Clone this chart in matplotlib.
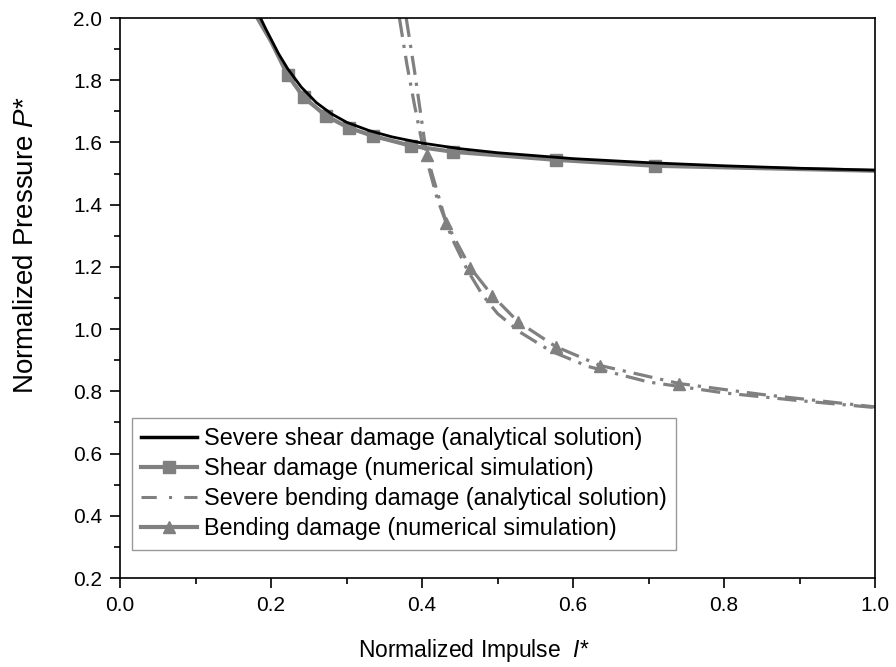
import matplotlib
matplotlib.use("Agg")
import matplotlib.pyplot as plt
from matplotlib.lines import Line2D
from matplotlib.ticker import MultipleLocator

plt.rcParams['font.family'] = ['Liberation Sans', 'DejaVu Sans']
plt.rcParams['mathtext.fontset'] = 'custom'
plt.rcParams['mathtext.rm'] = 'Liberation Sans'
plt.rcParams['mathtext.it'] = 'Liberation Sans:italic'

# severe shear damage (analytical)
shear_an_x = [0.186, 0.193, 0.2, 0.21, 0.222, 0.24, 0.26, 0.28, 0.30, 0.33, 0.36, 0.40, 0.45, 0.50, 0.60, 0.70, 0.80, 0.90, 1.0]
shear_an_y = [2.0, 1.965, 1.932, 1.885, 1.837, 1.778, 1.728, 1.692, 1.665, 1.638, 1.618, 1.598, 1.58, 1.567, 1.548, 1.535, 1.525, 1.517, 1.511]

# shear damage (numerical)
shear_num_x = [0.182, 0.20, 0.222, 0.243, 0.273, 0.303, 0.335, 0.386, 0.441, 0.578, 0.709, 1.0]
shear_num_y = [2.0, 1.925, 1.817, 1.746, 1.685, 1.647, 1.621, 1.589, 1.570, 1.544, 1.525, 1.509]
shear_num_mark = list(range(2, 11))

# severe bending damage (analytical)
bend_an_x = [0.370, 0.38, 0.39, 0.40, 0.42, 0.44, 0.46, 0.48, 0.50, 0.53, 0.57, 0.62, 0.70, 0.80, 0.90, 1.0]
bend_an_y = [2.0, 1.85, 1.72, 1.60, 1.42, 1.29, 1.19, 1.11, 1.05, 0.99, 0.93, 0.88, 0.83, 0.795, 0.77, 0.748]

# bending damage (numerical)
bend_num_x = [0.379, 0.39, 0.406, 0.432, 0.464, 0.493, 0.527, 0.577, 0.636, 0.741, 0.85, 1.0]
bend_num_y = [2.0, 1.83, 1.56, 1.342, 1.197, 1.108, 1.024, 0.944, 0.883, 0.825, 0.79, 0.75]
bend_num_mark = list(range(2, 10))

labels = ['Severe shear damage (analytical solution)',
          'Shear damage (numerical simulation)',
          'Severe bending damage (analytical solution)',
          'Bending damage (numerical simulation)']

gray = '#808080'
dashdot = (0, (6, 2.5, 1, 2.5))

fig = plt.figure(figsize=(8.96, 6.67), dpi=100)
ax = fig.add_axes([0.134, 0.1334, 0.8426, 0.8396])

ax.plot(shear_num_x, shear_num_y, color=gray, lw=3, marker='s', ms=8,
        markevery=shear_num_mark, zorder=2)
ax.plot(shear_an_x, shear_an_y, color='black', lw=2, zorder=3)
ax.plot(bend_an_x, bend_an_y, color=gray, lw=2.3, ls=dashdot, zorder=2)
ax.plot(bend_num_x, bend_num_y, color=gray, lw=2.3, ls=dashdot,
        marker='^', ms=9, markevery=bend_num_mark, zorder=2)

ax.set_xlim(0.0, 1.0)
ax.set_ylim(0.2, 2.0)
ax.xaxis.set_major_locator(MultipleLocator(0.2))
ax.xaxis.set_minor_locator(MultipleLocator(0.1))
ax.yaxis.set_major_locator(MultipleLocator(0.2))
ax.yaxis.set_minor_locator(MultipleLocator(0.1))
ax.tick_params(which='both', direction='out', top=False, right=False, labelsize=15, width=1.2)
ax.tick_params(which='major', length=7, pad=6)
ax.tick_params(which='minor', length=4)
for s in ax.spines.values():
    s.set_linewidth(1.2)

ax.set_xlabel(r'Normalized Impulse  $\it{I}$*', fontsize=16.5)
ax.set_ylabel(r'Normalized Pressure $\it{P}$*', fontsize=20)
ax.xaxis.set_label_coords(0.469, -0.105)
ax.yaxis.set_label_coords(-0.108, 0.595)

handles = [
    Line2D([], [], color='black', lw=2.5),
    Line2D([], [], color=gray, lw=3, marker='s', ms=8),
    Line2D([], [], color=gray, lw=2.2, ls=(0, (5, 4, 1, 4))),
    Line2D([], [], color=gray, lw=3, marker='^', ms=9),
]
leg = ax.legend(handles, labels, loc='lower left', bbox_to_anchor=(0.0, 0.03),
                fontsize=16.8, fancybox=False, framealpha=1, edgecolor='#999999',
                handlelength=2.4, handletextpad=0.3, borderpad=0.4, labelspacing=0.3)
leg.get_frame().set_linewidth(1.0)

fig.savefig('out.png', dpi=100)
